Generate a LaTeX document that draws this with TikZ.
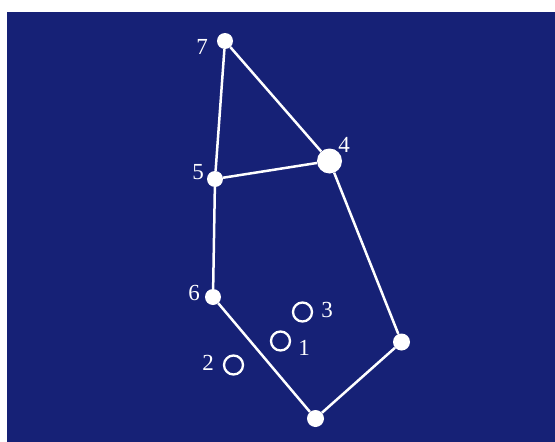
\documentclass[tikz,border=0pt]{standalone}
\usepackage{fontspec}
\setmainfont{Liberation Serif}
\definecolor{bgblue}{RGB}{22,33,118}
\begin{document}
\begin{tikzpicture}[x=1pt,y=-1pt,
  dot/.style={circle,fill=white,inner sep=0pt,minimum size=16pt},
  bigdot/.style={circle,fill=white,inner sep=0pt,minimum size=25pt},
  ring/.style={circle,draw=white,line width=2.3pt,inner sep=0pt,minimum size=19pt},
  edge/.style={draw=white,line width=2.5pt},
  lbl/.style={text=white,font=\fontsize{23}{23}\selectfont,inner sep=0pt}]
\useasboundingbox (0,0) rectangle (555,442);
\fill[white] (0,0) rectangle (555,442);
\fill[bgblue] (7,12) rectangle (555,442);
\node[dot] (n7) at (225,41) {};
\node[bigdot] (n4) at (329.5,161) {};
\node[dot] (n5) at (215,179) {};
\node[dot] (n6) at (213,297) {};
\node[dot,minimum size=17pt] (nb) at (315.5,418.5) {};
\node[dot,minimum size=17pt] (nr) at (401.5,342) {};
\node[ring] (r3) at (302.5,312) {};
\node[ring] (r1) at (280.5,341) {};
\node[ring] (r2) at (233.5,365) {};
\draw[edge] (n7) -- (n5);
\draw[edge] (n7) -- (n4);
\draw[edge] (n5) -- (n4);
\draw[edge] (n5) -- (n6);
\draw[edge] (n6) -- (nb);
\draw[edge] (nb) -- (nr);
\draw[edge] (nr) -- (n4);
\node[lbl] (l7) at (202,47) {7};
\node[lbl] (l4) at (344,145) {4};
\node[lbl] (l5) at (198,172) {5};
\node[lbl] (l6) at (194,293) {6};
\node[lbl] (l3) at (327,310) {3};
\node[lbl] (l1) at (304,348) {1};
\node[lbl] (l2) at (208,363) {2};
\end{tikzpicture}
\end{document}
